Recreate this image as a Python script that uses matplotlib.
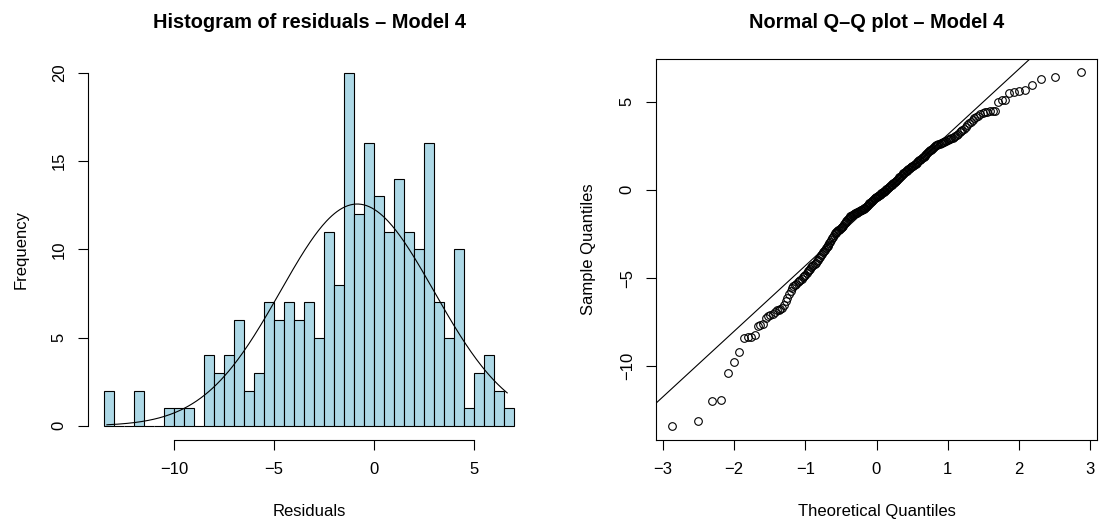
import numpy as np
import matplotlib
matplotlib.use("Agg")
import matplotlib.pyplot as plt
from statistics import NormalDist

plt.rcParams['font.family'] = ['Liberation Sans', 'DejaVu Sans']

residuals = [
    -13.36, -13.07, -11.98, -11.88, -10.40, -9.73, -9.19,
    -8.41, -8.36, -8.32, -8.21, -7.70, -7.66, -7.58,
    -7.28, -7.17, -7.09, -7.03,
    -6.92, -6.83, -6.78, -6.75, -6.68, -6.55, -6.32, -6.12,
    -5.88, -5.74, -5.58,
    -5.46, -5.40, -5.33, -5.25, -5.18, -5.10, -5.04,
    -4.95, -4.88, -4.80, -4.71, -4.62, -4.55,
    -4.46, -4.40, -4.33, -4.26, -4.19, -4.12, -4.05,
    -3.95, -3.87, -3.79, -3.71, -3.63, -3.55,
    -3.46, -3.39, -3.32, -3.25, -3.18, -3.11, -3.04,
    -2.94, -2.84, -2.75, -2.65, -2.56,
    -2.47, -2.43, -2.39, -2.34, -2.30, -2.25, -2.21, -2.17, -2.12, -2.08, -2.03,
    -1.96, -1.90, -1.84, -1.78, -1.72, -1.66, -1.60, -1.54,
    -1.49, -1.47, -1.44, -1.42, -1.39, -1.37, -1.34, -1.32, -1.29, -1.27,
    -1.24, -1.22, -1.19, -1.17, -1.14, -1.12, -1.09, -1.07, -1.04, -1.02,
    -0.98, -0.94, -0.90, -0.86, -0.81, -0.77, -0.73, -0.69, -0.65, -0.61, -0.56, -0.52,
    -0.48, -0.45, -0.42, -0.39, -0.36, -0.33, -0.30, -0.27,
    -0.23, -0.20, -0.17, -0.14, -0.11, -0.08, -0.05, -0.02,
    0.02, 0.06, 0.10, 0.13, 0.17, 0.21, 0.25, 0.29, 0.33, 0.37, 0.40, 0.44, 0.48,
    0.52, 0.57, 0.61, 0.66, 0.70, 0.75, 0.79, 0.84, 0.88, 0.93, 0.97,
    1.02, 1.05, 1.09, 1.12, 1.16, 1.19, 1.23, 1.27, 1.30, 1.34, 1.37, 1.41, 1.44, 1.48,
    1.52, 1.57, 1.61, 1.66, 1.70, 1.75, 1.79, 1.84, 1.88, 1.93, 1.97,
    2.03, 2.08, 2.13, 2.18, 2.23, 2.28, 2.33, 2.38, 2.43, 2.47,
    2.52, 2.55, 2.58, 2.61, 2.64, 2.67, 2.70, 2.73,
    2.76, 2.79, 2.82, 2.85, 2.88, 2.91, 2.94, 2.97,
    3.04, 3.11, 3.18, 3.25, 3.32, 3.39, 3.46,
    3.56, 3.66, 3.76, 3.86, 3.95,
    4.04, 4.12, 4.20, 4.27, 4.33, 4.38, 4.42, 4.45, 4.47, 4.49,
    4.97, 5.06, 5.09, 5.47, 5.55, 5.60, 5.66, 5.95, 6.30, 6.41, 6.66,
]
breaks = np.arange(-13.5, 7.01, 0.5)

res = np.sort(np.array(residuals))
n = len(res)
nd = NormalDist()

fig = plt.figure(figsize=(11.02, 5.29), dpi=100)
W, H = 1102, 529

def px_axes(l, r, t, b):
    return fig.add_axes([l / W, 1 - b / H, (r - l) / W, (b - t) / H])

# ---- histogram
ax1 = px_axes(87.7, 530.4, 58.6, 440)
ax1.hist(res, bins=breaks, color='#ADD8E6', edgecolor='black', linewidth=0.8)
mu, sd = res.mean(), res.std(ddof=1)
xx = np.linspace(res.min(), res.max(), 300)
dens = np.array([NormalDist(mu, sd).pdf(v) for v in xx]) * n * 0.5
ax1.plot(xx, dens, color='black', lw=0.8)
ax1.set_xlim(-14.32, 7.82)
ax1.set_ylim(-0.8, 20.8)
ax1.set_xticks([-10, -5, 0, 5])
ax1.set_yticks([0, 5, 10, 15, 20])
for s in ['top', 'right']:
    ax1.spines[s].set_visible(False)
ax1.spines['bottom'].set_bounds(-10, 5)
ax1.spines['left'].set_bounds(0, 20)
ax1.set_title('Histogram of residuals – Model 4', fontsize=14.4, fontweight='bold', pad=22)
ax1.set_xlabel('Residuals', fontsize=12, labelpad=19)
ax1.set_ylabel('Frequency', fontsize=12, labelpad=17)

# ---- normal Q-Q plot
ax2 = px_axes(655.7, 1097.3, 58.6, 440)
probs = [(i + 0.5) / n for i in range(n)]
theo = np.array([nd.inv_cdf(p) for p in probs])
ax2.plot(theo, res, 'o', mfc='none', mec='black', ms=5.5, mew=0.8)
q1, q3 = np.percentile(res, [25, 75])
z1, z3 = nd.inv_cdf(0.25), nd.inv_cdf(0.75)
slope = (q3 - q1) / (z3 - z1)
icpt = q1 - slope * z1
ax2.axline((0, icpt), slope=slope, color='black', lw=0.8)
ax2.set_xlim(-3.1, 3.1)
ax2.set_ylim(-14.17, 7.43)
ax2.set_xticks([-3, -2, -1, 0, 1, 2, 3])
ax2.set_yticks([-10, -5, 0, 5])
ax2.set_title('Normal Q–Q plot – Model 4', fontsize=14.4, fontweight='bold', pad=22)
ax2.set_xlabel('Theoretical Quantiles', fontsize=12, labelpad=19)
ax2.set_ylabel('Sample Quantiles', fontsize=12, labelpad=17)

for ax in (ax1, ax2):
    ax.tick_params(length=7, width=0.8, labelsize=12)
    ax.tick_params(axis='x', pad=9)
    ax.tick_params(axis='y', pad=8)
    for lab in ax.get_yticklabels():
        lab.set_rotation(90)
        lab.set_va('center')
    for s in ax.spines.values():
        s.set_linewidth(0.8)

fig.savefig('out.png', dpi=100)
